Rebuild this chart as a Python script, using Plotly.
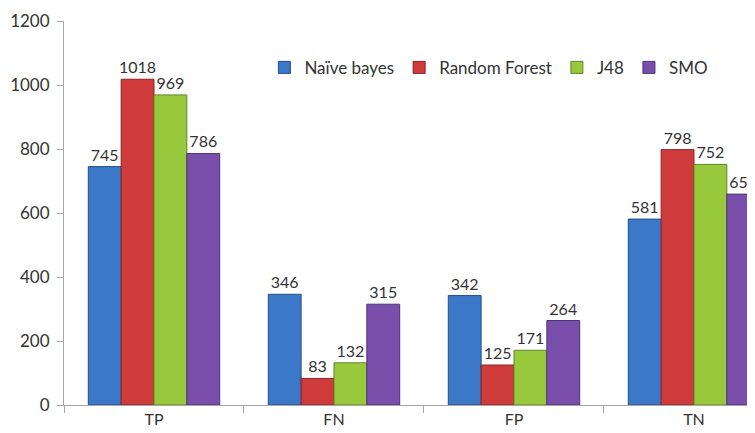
import plotly.graph_objects as go

# categories and series
categorias = ["TP", "FN", "FP", "TN"]
naive_bayes = [745, 346, 342, 581]
random_forest = [1018, 83, 125, 798]
j48 = [969, 132, 171, 752]
smo = [786, 315, 264, 659]

series = [
    ("Naïve bayes", naive_bayes, "#3b78c8", "#244f8a"),
    ("Random Forest", random_forest, "#cf3b3b", "#8c2424"),
    ("J48", j48, "#98c83c", "#62852a"),
    ("SMO", smo, "#7a4fac", "#4e3173"),
]

fuente = "Lato, 'Open Sans', sans-serif"

fig = go.Figure()
for nombre, valores, color, borde in series:
    fig.add_trace(go.Bar(
        x=categorias,
        y=valores,
        name=nombre,
        marker=dict(color=color, line=dict(color=borde, width=1)),
        text=[str(v) for v in valores],
        textposition="outside",
        constraintext="none",
        textfont=dict(size=16, color="#333333", family=fuente),
        cliponaxis=False,
    ))

# la página deja 8 px de margen en el body, así que la figura va 8 px más chica
fig.update_layout(
    width=747,
    height=425,
    barmode="group",
    bargap=0.27,
    bargroupgap=0,
    plot_bgcolor="white",
    paper_bgcolor="white",
    font=dict(family=fuente, size=18, color="#333333"),
    margin=dict(l=56, r=0, t=13, b=28, autoexpand=False),
    showlegend=True,
    legend=dict(
        orientation="h",
        x=0.29,
        y=0.878,
        xanchor="left",
        yanchor="middle",
        font=dict(size=17, color="#333333", family=fuente),
        itemwidth=30,
        bgcolor="rgba(0,0,0,0)",
    ),
)

fig.update_xaxes(
    range=[-0.5, 3.339],
    showline=True,
    linecolor="#a6a6a6",
    linewidth=1,
    ticks="outside",
    tickson="boundaries",
    ticklen=7,
    tickcolor="#a6a6a6",
    showgrid=False,
    tickfont=dict(size=16),
    automargin=False,
)

fig.update_yaxes(
    range=[0, 1200],
    tickvals=[0, 200, 400, 600, 800, 1000, 1200],
    showline=True,
    linecolor="#a6a6a6",
    linewidth=1,
    ticks="outside",
    ticklen=6,
    tickcolor="#a6a6a6",
    showgrid=False,
    zeroline=False,
    tickfont=dict(size=17),
    ticklabelstandoff=4,
    automargin=False,
)

fig.write_html("out.html")
